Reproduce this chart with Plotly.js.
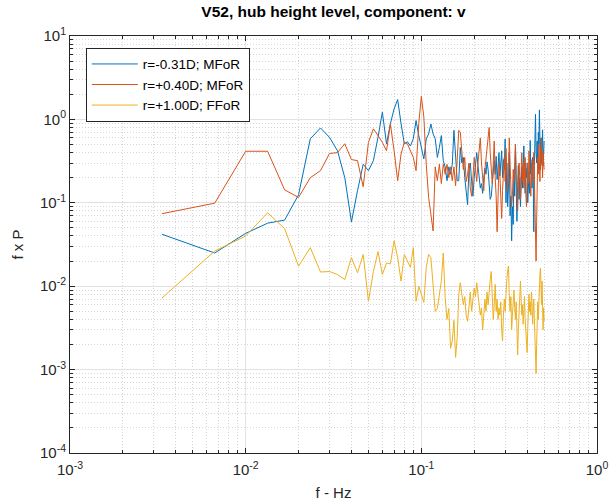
<!DOCTYPE html>
<html><head><meta charset="utf-8">
<script src="https://cdn.plot.ly/plotly-3.0.1.min.js"></script>
<style>html,body{margin:0;padding:0;background:#fff;}#chart{width:609px;height:503px;}</style>
</head><body><div id="chart"></div>
<script>
// frequency bins: record length 300 s -> df = 1/300 Hz, bins 1..150 (up to 0.5 Hz)
const binCount = 150;
const recordLength = 300;
const freq = [];
for (let n = 1; n <= binCount; n++) freq.push(n / recordLength);

const seriesNames = ['r=-0.31D; MFoR', 'r=+0.40D; MFoR', 'r=+1.00D; FFoR'];
const seriesColors = ['#0072BD', '#D95319', '#EDB120'];

const blue = [
  0.042, 0.025, 0.043, 0.057, 0.062, 0.125, 0.585, 0.79, 0.61, 0.42,
  0.20, 0.059, 0.14, 0.29, 0.243, 0.32, 0.61, 1.22, 0.51, 0.89,
  1.34, 1.73, 0.89, 0.51, 0.54, 0.48, 0.585, 0.97, 0.64, 0.46,
  0.336, 0.585, 0.67, 0.88, 0.67, 0.585, 0.35, 0.46, 0.64, 0.32,
  0.27, 0.184, 0.27, 0.22, 0.29, 0.74, 0.35, 0.184, 0.184, 0.46,
  0.30, 0.35, 0.20, 0.14, 0.095, 0.25, 0.30, 0.18, 0.12, 0.20,
  0.33, 0.40, 0.28, 0.20, 0.15, 0.17, 0.13, 0.20, 0.26, 0.22,
  0.31, 0.25, 0.15, 0.11, 0.12, 0.18, 0.25, 0.32, 0.22, 0.36,
  0.19, 0.27, 0.40, 0.21, 0.30, 0.42, 0.20, 0.33, 0.25, 0.58,
  0.10, 0.30, 0.09, 0.15, 0.40, 0.07, 0.12, 0.035, 0.09, 0.055,
  0.25, 0.12, 0.50, 0.18, 0.06, 0.16, 0.28, 0.11, 0.20, 0.09,
  0.14, 0.27, 0.15, 0.35, 0.48, 0.22, 0.13, 0.30, 0.20, 0.26,
  0.10, 0.15, 0.24, 0.13, 0.56, 0.22, 0.30, 0.15, 0.35, 0.21,
  0.045, 0.28, 0.60, 1.15, 0.40, 0.30, 0.55, 0.25, 0.70, 0.50,
  1.30, 0.35, 0.25, 0.60, 0.30, 0.45, 0.75, 0.28, 0.40, 0.55
];

const orange = [
  0.074, 0.099, 0.415, 0.415, 0.143, 0.116, 0.20, 0.243, 0.39, 0.40,
  0.51, 0.33, 0.32, 0.156, 0.53, 0.77, 0.64, 0.53, 0.42, 0.88,
  0.42, 0.184, 0.385, 0.53, 0.51, 0.42, 0.35, 0.243, 0.89, 1.89,
  1.07, 0.29, 0.116, 0.073, 0.046, 0.27, 0.184, 0.29, 0.17, 0.29,
  0.22, 0.29, 0.20, 0.27, 0.184, 0.27, 0.16, 0.32, 0.74, 0.70,
  0.45, 0.25, 0.35, 0.18, 0.22, 0.30, 0.15, 0.12, 0.20, 0.35,
  0.25, 0.18, 0.30, 0.45, 0.60, 0.30, 0.20, 0.14, 0.25, 0.35,
  0.50, 0.65, 0.80, 0.40, 0.28, 0.17, 0.30, 0.55, 0.20, 0.12,
  0.045, 0.16, 0.30, 0.22, 0.10, 0.065, 0.14, 0.25, 0.35, 0.18,
  0.45, 0.25, 0.14, 0.20, 0.60, 0.30, 0.16, 0.09, 0.12, 0.25,
  0.18, 0.35, 0.50, 0.22, 0.12, 0.08, 0.15, 0.30, 0.20, 0.11,
  0.25, 0.40, 0.18, 0.30, 0.15, 0.22, 0.35, 0.13, 0.09, 0.20,
  0.30, 0.17, 0.42, 0.25, 0.15, 0.12, 0.22, 0.33, 0.18, 0.27,
  0.40, 0.20, 0.08, 0.03, 0.02, 0.06, 0.12, 0.35, 0.22, 0.50,
  0.30, 0.18, 0.45, 0.28, 0.60, 0.35, 0.20, 0.40, 0.30, 0.25
];

const yellow = [
  0.0072, 0.0264, 0.040, 0.076, 0.049, 0.0174, 0.029, 0.0148, 0.015, 0.0138,
  0.012, 0.022, 0.0145, 0.024, 0.0066, 0.015, 0.026, 0.0138, 0.019, 0.0185,
  0.035, 0.022, 0.0115, 0.024, 0.020, 0.0168, 0.029, 0.0066, 0.010, 0.0079,
  0.0064, 0.0168, 0.024, 0.022, 0.0115, 0.005, 0.0054, 0.0079, 0.0115, 0.025,
  0.0073, 0.004, 0.0054, 0.0018, 0.0022, 0.0039, 0.0014, 0.0024, 0.0079, 0.011,
  0.0085, 0.006, 0.0075, 0.0045, 0.0038, 0.006, 0.0085, 0.005, 0.007, 0.0095,
  0.0075, 0.011, 0.008, 0.006, 0.0045, 0.0055, 0.003, 0.0045, 0.007, 0.005,
  0.0085, 0.006, 0.0095, 0.012, 0.015, 0.008, 0.004, 0.006, 0.0105, 0.005,
  0.007, 0.004, 0.0055, 0.0045, 0.0065, 0.003, 0.0022, 0.0045, 0.007, 0.005,
  0.009, 0.012, 0.0155, 0.0175, 0.008, 0.005, 0.0075, 0.003, 0.0045, 0.0065,
  0.009, 0.0055, 0.004, 0.0065, 0.0035, 0.0015, 0.003, 0.006, 0.0085, 0.0115,
  0.007, 0.0045, 0.006, 0.0035, 0.005, 0.0075, 0.004, 0.0025, 0.0018, 0.0016,
  0.003, 0.0055, 0.008, 0.005, 0.0065, 0.0045, 0.0085, 0.006, 0.0035, 0.005,
  0.007, 0.004, 0.0025, 0.0015, 0.0009, 0.002, 0.0045, 0.0065, 0.004, 0.0075,
  0.011, 0.014, 0.0165, 0.009, 0.006, 0.0115, 0.0045, 0.003, 0.0055, 0.0038
];

const xTickVals = [1e-3, 1e-2, 1e-1, 1];
const xTickText = ['10<sup>-3</sup>', '10<sup>-2</sup>', '10<sup>-1</sup>', '10<sup>0</sup>'];
const yTickVals = [1e-4, 1e-3, 1e-2, 1e-1, 1, 10];
const yTickText = ['10<sup>-4</sup>', '10<sup>-3</sup>', '10<sup>-2</sup>', '10<sup>-1</sup>', '10<sup>0</sup>', '10<sup>1</sup>'];

function minorVals(decades) {
  const out = [];
  decades.slice(0, -1).forEach(d => { for (let k = 2; k <= 9; k++) out.push(k * d); });
  return out;
}

const allSeries = [blue, orange, yellow];
const traces = allSeries.map((vals, i) => ({
  x: freq, y: vals, type: 'scatter', mode: 'lines',
  name: seriesNames[i],
  line: {color: seriesColors[i], width: 1}
}));

const FONT = 'Liberation Sans, Arial, sans-serif';
const axisCommon = {
  type: 'log', tickmode: 'array',
  showline: true, linecolor: '#262626', linewidth: 1, mirror: 'ticks',
  ticks: 'inside', ticklen: 5, tickcolor: '#262626', tickwidth: 1,
  showgrid: true, gridcolor: '#e2e2e2', gridwidth: 1,
  zeroline: false,
  tickfont: {family: FONT, size: 15, color: '#262626'}
};
const minorCommon = {
  tickmode: 'array', ticks: 'inside', ticklen: 3, tickcolor: '#262626',
  showgrid: true, gridcolor: '#d6d6d6', griddash: '1px,2px', gridwidth: 1
};

const layout = {
  width: 609, height: 503,
  margin: {l: 70, r: 12, t: 36, b: 50},
  paper_bgcolor: '#ffffff', plot_bgcolor: '#ffffff',
  font: {family: FONT, color: '#262626'},
  title: {text: '<b>V52, hub height level, component: v</b>', x: 0.5, xref: 'paper', y: 0.976, yref: 'container', yanchor: 'middle',
          font: {family: FONT, size: 15.5, color: '#000000'}},
  xaxis: Object.assign({}, axisCommon, {
    range: [-3, 0], tickvals: xTickVals, ticktext: xTickText, ticklabelstandoff: 3,
    minor: Object.assign({tickvals: minorVals(xTickVals)}, minorCommon),
    title: {text: 'f - Hz', font: {family: FONT, size: 15, color: '#262626'}, standoff: 10}
  }),
  yaxis: Object.assign({}, axisCommon, {
    range: [-4, 1], tickvals: yTickVals, ticktext: yTickText,
    minor: Object.assign({tickvals: minorVals(yTickVals)}, minorCommon),
    title: {text: 'f x P', font: {family: FONT, size: 15, color: '#262626'}, standoff: 12}
  }),
  showlegend: true,
  legend: {x: 0.03, y: 0.972, xanchor: 'left', yanchor: 'top', bgcolor: '#ffffff', bordercolor: '#262626', borderwidth: 1,
           font: {family: FONT, size: 13.5, color: '#000000'}, tracegroupgap: 0, itemwidth: 46}
};

Plotly.newPlot('chart', traces, layout, {displayModeBar: false, staticPlot: true});
</script>
</body></html>
